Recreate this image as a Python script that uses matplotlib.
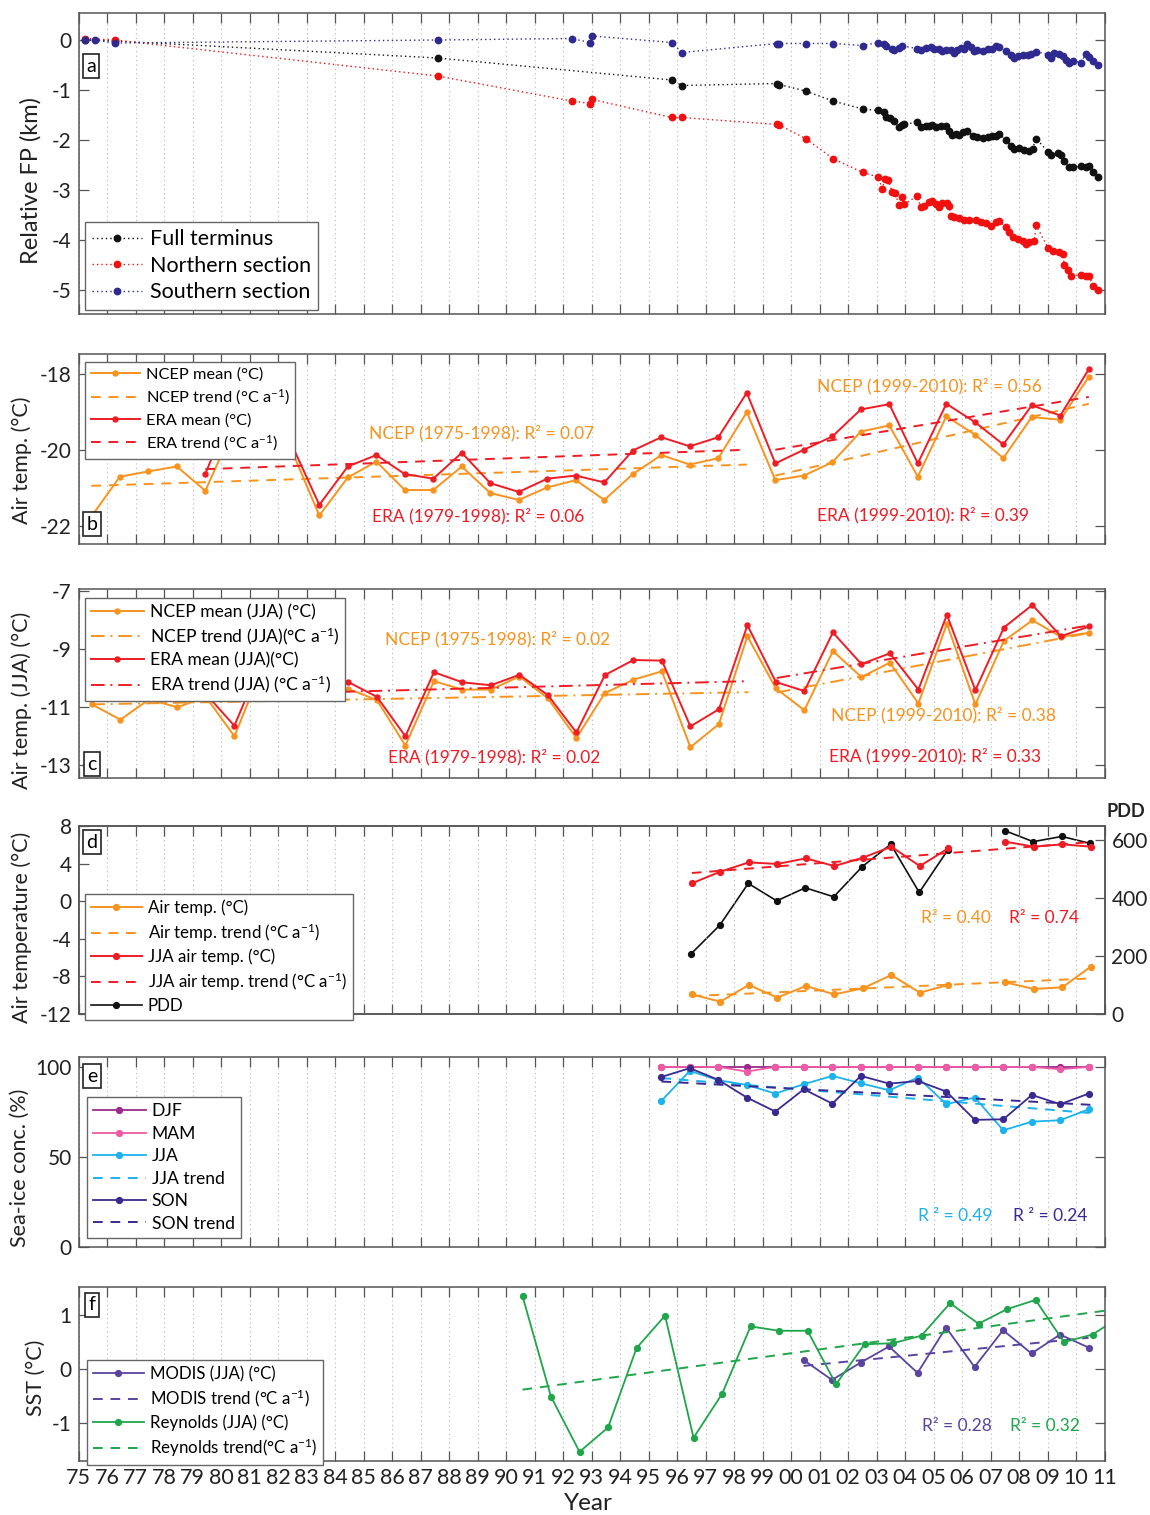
import numpy as np
import matplotlib
matplotlib.use("Agg")
import matplotlib.pyplot as plt

plt.rcParams["font.family"] = ["Lato", "DejaVu Sans"]
plt.rcParams["mathtext.fontset"] = "custom"
plt.rcParams["mathtext.rm"] = "Lato"
plt.rcParams["mathtext.default"] = "regular"
plt.rcParams["axes.unicode_minus"] = False

# ---------------- panel a: relative front position (km) ----------------
full_t = [1975.24, 1976.27, 1987.60, 1995.82, 1996.17, 1999.51, 1999.59, 2000.51, 2001.47, 2002.52,
          2003.06, 2003.26, 2003.35, 2003.49, 2003.61, 2003.79, 2003.91, 2003.96, 2004.43, 2004.55,
          2004.73, 2004.84, 2004.96, 2005.08, 2005.25, 2005.43, 2005.55, 2005.66, 2005.78, 2005.90,
          2006.02, 2006.19, 2006.37, 2006.54, 2006.72, 2006.90, 2007.07, 2007.19, 2007.31, 2007.54,
          2007.72, 2007.83, 2008.01, 2008.19, 2008.36, 2008.48, 2008.60, 2009.01, 2009.12, 2009.36,
          2009.47, 2009.59, 2009.77, 2009.89, 2010.18, 2010.35, 2010.47, 2010.59, 2010.76]
full_v = [0.0, -0.02, -0.36, -0.80, -0.91, -0.87, -0.89, -1.02, -1.22, -1.38,
          -1.41, -1.44, -1.54, -1.57, -1.63, -1.75, -1.71, -1.69, -1.64, -1.75,
          -1.72, -1.72, -1.71, -1.75, -1.72, -1.72, -1.81, -1.90, -1.87, -1.89,
          -1.83, -1.82, -1.92, -1.94, -1.95, -1.94, -1.91, -1.91, -1.87, -2.01,
          -2.12, -2.17, -2.15, -2.19, -2.21, -2.17, -1.97, -2.23, -2.29, -2.25,
          -2.30, -2.42, -2.55, -2.55, -2.52, -2.55, -2.53, -2.65, -2.75]

north_t = [1975.24, 1976.27, 1987.60, 1992.30, 1992.96, 1993.03, 1995.82, 1996.17, 1999.51, 1999.59,
           2000.51, 2001.47, 2002.52, 2003.06, 2003.20, 2003.30, 2003.42, 2003.55, 2003.65, 2003.80,
           2003.88, 2003.98, 2004.43, 2004.55, 2004.67, 2004.84, 2004.96, 2005.08, 2005.20, 2005.31,
           2005.49, 2005.55, 2005.61, 2005.72, 2005.90, 2006.08, 2006.25, 2006.49, 2006.66, 2006.84,
           2007.01, 2007.19, 2007.31, 2007.54, 2007.66, 2007.78, 2007.95, 2008.13, 2008.25, 2008.36,
           2008.54, 2008.60, 2009.01, 2009.18, 2009.42, 2009.53, 2009.59, 2009.71, 2009.83, 2010.18,
           2010.35, 2010.47, 2010.59, 2010.76]
north_v = [0.03, 0.0, -0.72, -1.22, -1.27, -1.19, -1.55, -1.55, -1.69, -1.70,
           -1.97, -2.37, -2.65, -2.74, -2.97, -2.79, -2.80, -3.05, -3.07, -3.31,
           -3.15, -3.28, -3.12, -3.35, -3.32, -3.25, -3.23, -3.28, -3.35, -3.27,
           -3.27, -3.32, -3.52, -3.55, -3.57, -3.61, -3.61, -3.61, -3.65, -3.67,
           -3.72, -3.65, -3.62, -3.75, -3.85, -3.95, -3.99, -4.02, -4.09, -4.05,
           -4.02, -3.70, -4.15, -4.22, -4.25, -4.29, -4.49, -4.59, -4.72, -4.69,
           -4.72, -4.72, -4.92, -4.99]

south_t = [1975.24, 1975.58, 1976.27, 1987.60, 1992.30, 1992.96, 1993.03, 1995.82, 1996.17, 1999.51,
           1999.59, 2000.51, 2001.47, 2002.52, 2003.06, 2003.26, 2003.34, 2003.53, 2003.61, 2003.79,
           2003.91, 2004.43, 2004.55, 2004.73, 2004.90, 2005.02, 2005.20, 2005.31, 2005.43, 2005.61,
           2005.72, 2005.84, 2005.96, 2006.08, 2006.19, 2006.31, 2006.43, 2006.54, 2006.72, 2006.90,
           2007.07, 2007.19, 2007.31, 2007.54, 2007.72, 2007.83, 2007.95, 2008.13, 2008.30, 2008.42,
           2008.60, 2009.01, 2009.12, 2009.24, 2009.42, 2009.53, 2009.65, 2009.77, 2009.89, 2010.18,
           2010.35, 2010.47, 2010.59, 2010.76]
south_v = [0.0, 0.0, -0.06, 0.0, 0.03, -0.05, 0.08, -0.05, -0.25, -0.07,
           -0.07, -0.07, -0.07, -0.11, -0.05, -0.07, -0.11, -0.17, -0.20, -0.15,
           -0.12, -0.17, -0.19, -0.15, -0.13, -0.17, -0.17, -0.22, -0.20, -0.20,
           -0.26, -0.20, -0.15, -0.17, -0.07, -0.14, -0.21, -0.20, -0.21, -0.17,
           -0.17, -0.11, -0.13, -0.22, -0.29, -0.35, -0.31, -0.29, -0.29, -0.27,
           -0.23, -0.29, -0.35, -0.25, -0.27, -0.32, -0.39, -0.45, -0.42, -0.45,
           -0.27, -0.34, -0.42, -0.49]

# ---------------- panel b: annual air temperature ----------------
ncep_years = np.arange(1975, 2011)
ncep_mean = [-21.75, -20.70, -20.56, -20.43, -21.07, -19.40, -19.30, -19.95, -21.72, -20.72,
             -20.30, -21.05, -21.05, -20.43, -21.13, -21.31, -20.98, -20.79, -21.31, -20.63,
             -20.13, -20.38, -20.21, -19.00, -20.79, -20.67, -20.32, -19.51, -19.35, -20.70,
             -19.11, -19.59, -20.21, -19.13, -19.20, -18.07]
era_years = np.arange(1979, 2011)
era_mean = [-20.63, -18.75, -19.00, -19.80, -21.44, -20.43, -20.13, -20.63, -20.75, -20.07,
            -20.87, -21.10, -20.75, -20.67, -20.85, -20.01, -19.66, -19.90, -19.66, -18.49,
            -20.35, -19.99, -19.64, -18.93, -18.79, -20.35, -18.78, -19.26, -19.85, -18.82,
            -19.09, -17.87]
# trend end points (first period, second period)
ncep_trend_b = [[(1975.45, -20.94), (1998.45, -20.38)], [(1999.45, -20.67), (2010.45, -18.78)]]
era_trend_b = [[(1979.45, -20.50), (1998.45, -19.99)], [(1999.45, -19.99), (2010.45, -18.60)]]

# ---------------- panel c: JJA air temperature ----------------
ncep_jja = [-10.91, -11.44, -10.74, -11.01, -10.65, -12.01, -9.60, -10.45, -10.51, -10.38,
            -10.76, -12.33, -10.11, -10.40, -10.40, -9.95, -10.70, -12.07, -10.52, -10.06,
            -9.77, -12.39, -11.59, -8.56, -10.36, -11.11, -9.07, -9.97, -9.47, -10.88,
            -8.13, -10.91, -8.72, -8.01, -8.58, -8.44]
era_jja = [-10.55, -11.65, -9.30, -10.30, -10.30, -10.14, -10.65, -12.01, -9.80, -10.15,
           -10.25, -9.89, -10.59, -11.88, -9.90, -9.38, -9.40, -11.67, -11.08, -8.18,
           -10.14, -10.45, -8.43, -9.52, -9.15, -10.40, -7.82, -10.42, -8.26, -7.48,
           -8.56, -8.22]
ncep_trend_c = [[(1975.45, -10.91), (1998.5, -10.49)], [(1999.5, -10.50), (2010.5, -8.44)]]
era_trend_c = [[(1979.45, -10.60), (1998.5, -10.11)], [(1999.5, -10.00), (2010.5, -8.18)]]

# ---------------- panel d: station air temperature and PDD ----------------
stn_years = np.arange(1996, 2011)
stn_air = [-9.91, -10.69, -8.91, -10.26, -9.02, -9.91, -9.27, -7.85, -9.73, -8.91,
           np.nan, -8.63, -9.34, -9.16, -6.96]
stn_jja = [1.90, 3.14, 4.13, 3.96, 4.56, 3.74, 4.63, 5.80, 3.74, 5.62,
           np.nan, 6.33, 5.80, 6.05, 5.80]
stn_pdd = [208, 306, 450, 390, 435, 404, 508, 585, 419, 565,
           np.nan, 632, 594, 612, 588]
air_trend_d = [(1996.52, -10.09), (2010.56, -8.21)]
jja_trend_d = [(1996.52, 3.00), (2010.56, 6.30)]

# ---------------- panel e: sea-ice concentration ----------------
ice_years = np.arange(1995, 2011)
ice_djf = [100, 100, 100, 100, 100, 100, 100, 100, 100, 100, 100, 100, 100, 100, 100, 100]
ice_mam = [100, 100, 100, 97.4, 100, 100, 100, 100, 100, 100, 100, 100, 100, 100, 98.7, 100]
ice_jja = [81.1, 97.8, 92.6, 90.0, 85.2, 90.4, 95.0, 90.9, 87.0, 94.1, 79.3, 83.0, 64.8, 69.6, 70.4, 76.5]
ice_son = [94.4, 99.3, 92.8, 83.0, 75.2, 87.6, 79.6, 95.0, 90.7, 92.2, 86.3, 70.6, 70.9, 84.4, 79.3, 85.2]
jja_trend_e = [(1995.45, 93.8), (2010.57, 74.3)]
son_trend_e = [(1995.45, 91.9), (2010.57, 78.9)]

# ---------------- panel f: sea-surface temperature ----------------
rey_years = np.arange(1990, 2012)
rey_sst = [1.35, -0.51, -1.53, -1.08, 0.39, 0.99, -1.27, -0.46, 0.79, 0.71, 0.71,
           -0.28, 0.46, 0.48, 0.62, 1.22, 0.84, 1.11, 1.28, 0.50, 0.64, 0.98]
modis_years = np.arange(2000, 2011)
modis_sst = [0.17, -0.20, 0.12, 0.42, -0.07, 0.77, 0.04, 0.72, 0.29, 0.64, 0.40]
rey_trend = [(1990.58, -0.38), (2011.0, 1.08)]
modis_trend = [(2000.44, 0.06), (2010.44, 0.58)]

x_years = np.arange(1975, 2012)

# colours
ORANGE = "#f7931e"
RED = "#ee1c25"
BLACK = "#111111"
BLUE = "#2e2a8f"
DJF_C = "#9c2a8c"
MAM_C = "#ee5aa5"
JJA_C = "#1cb2ee"
SON_C = "#3a2a90"
MODIS_C = "#5a44a0"
REY_C = "#1fa64a"
SPINE = "#555555"

W, H = 1150, 1515
fig = plt.figure(figsize=(W / 100, H / 100), dpi=100)


def rect(top, bottom, left=78.5, right=1104.5):
    return [left / W, 1 - bottom / H, (right - left) / W, (bottom - top) / H]


def style(ax, ylim, yticks, labels=False, right=True):
    ax.set_xlim(1975, 2011)
    ax.set_ylim(*ylim)
    ax.set_xticks(x_years)
    ax.set_yticks(yticks)
    ax.grid(axis="x", linestyle=(0, (1, 3)), color="#b5b5b5", linewidth=0.8)
    ax.set_axisbelow(True)
    ax.tick_params(direction="in", top=True, right=right, length=7, width=0.9,
                   color=SPINE, labelsize=15, pad=5, labelcolor="#222222")
    ax.tick_params(axis="x", labelbottom=labels, labelsize=15.5)
    if labels:
        ax.set_xticklabels([f"{y % 100:02d}" for y in x_years])
    for s in ax.spines.values():
        s.set_color(SPINE)
        s.set_linewidth(1.1)


def panel_tag(letter, xc, yc):
    fig.text(xc / W, 1 - yc / H, letter, fontsize=14, ha="center", va="center",
             bbox=dict(boxstyle="square,pad=0.18", fc="white", ec="#222222", lw=1.2))


def legend(ax, x, y, fs, spacing=0.35, hl=3.0):
    leg = ax.legend(loc="upper left", bbox_to_anchor=(x, y), borderaxespad=0,
                    fontsize=fs, frameon=True, fancybox=False, framealpha=1,
                    edgecolor="#666666", labelspacing=spacing, handlelength=hl,
                    handletextpad=0.35, borderpad=0.35, numpoints=1)
    leg.get_frame().set_linewidth(1.0)
    return leg


def seg(ax, pts, **kw):
    xs = [p[0] for p in pts]
    ys = [p[1] for p in pts]
    ax.plot(xs, ys, **kw)


# ---- a ----
ax_a = fig.add_axes(rect(13, 314))
mk = dict(marker="o", markersize=4.6, linestyle=(0, (1, 2.2)), linewidth=1.0)
ax_a.plot(full_t, full_v, color=BLACK, label="Full terminus", **mk)
ax_a.plot(north_t, north_v, color="#f01010", label="Northern section", **mk)
ax_a.plot(south_t, south_v, color=BLUE, label="Southern section", **mk)
style(ax_a, (-5.48, 0.54), [0, -1, -2, -3, -4, -5])
legend(ax_a, 0.0063, 0.306, 15.5, spacing=0.3, hl=2.3)
panel_tag("a", 91, 66)

# ---- b ----
ax_b = fig.add_axes(rect(354, 544))
ax_b.plot(ncep_years + 0.45, ncep_mean, color=ORANGE, marker="o", markersize=3.6,
          linewidth=1.4, label="NCEP mean (°C)")
seg(ax_b, ncep_trend_b[0], color=ORANGE, linestyle=(0, (5, 4)), linewidth=1.4,
    label="NCEP trend (°C a$^{-1}$)")
seg(ax_b, ncep_trend_b[1], color=ORANGE, linestyle=(0, (5, 4)), linewidth=1.4)
ax_b.plot(era_years + 0.45, era_mean, color=RED, marker="o", markersize=3.6,
          linewidth=1.4, label="ERA mean (°C)")
seg(ax_b, era_trend_b[0], color=RED, linestyle=(0, (5, 4)), linewidth=1.4,
    label="ERA trend (°C a$^{-1}$)")
seg(ax_b, era_trend_b[1], color=RED, linestyle=(0, (5, 4)), linewidth=1.4)
style(ax_b, (-22.47, -17.47), [-18, -20, -22])
legend(ax_b, 0.0063, 0.958, 11.8)
ann = dict(fontsize=12.5, ha="left", va="center")
ax_b.text(1985.2, -19.55, "NCEP (1975-1998): R² = 0.07", color=ORANGE, **ann)
ax_b.text(1985.3, -21.73, "ERA (1979-1998): R² = 0.06", color=RED, **ann)
ax_b.text(2000.9, -18.32, "NCEP (1999-2010): R² = 0.56", color=ORANGE, **ann)
ax_b.text(2000.9, -21.70, "ERA (1999-2010): R² = 0.39", color=RED, **ann)
panel_tag("b", 92, 524)

# ---- c ----
ax_c = fig.add_axes(rect(589, 778))
dd = (0, (7, 3, 1, 3))
ax_c.plot(ncep_years + 0.47, ncep_jja, color=ORANGE, marker="o", markersize=3.6,
          linewidth=1.4, label="NCEP mean (JJA) (°C)")
seg(ax_c, ncep_trend_c[0], color=ORANGE, linestyle=dd, linewidth=1.4,
    label="NCEP trend (JJA)(°C a$^{-1}$)")
seg(ax_c, ncep_trend_c[1], color=ORANGE, linestyle=dd, linewidth=1.4)
ax_c.plot(era_years + 0.47, era_jja, color=RED, marker="o", markersize=3.6,
          linewidth=1.4, label="ERA mean (JJA)(°C)")
seg(ax_c, era_trend_c[0], color=RED, linestyle=dd, linewidth=1.4,
    label="ERA trend (JJA) (°C a$^{-1}$)")
seg(ax_c, era_trend_c[1], color=RED, linestyle=dd, linewidth=1.4)
style(ax_c, (-13.45, -6.93), [-7, -9, -11, -13])
legend(ax_c, 0.0063, 0.952, 12.6, spacing=0.3)
ax_c.text(1985.75, -8.67, "NCEP (1975-1998): R² = 0.02", color=ORANGE, **ann)
ax_c.text(1985.85, -12.73, "ERA (1979-1998): R² = 0.02", color=RED, **ann)
ax_c.text(2001.4, -11.28, "NCEP (1999-2010): R² = 0.38", color=ORANGE, **ann)
ax_c.text(2001.35, -12.69, "ERA (1999-2010): R² = 0.33", color=RED, **ann)
panel_tag("c", 92, 764)

# ---- d ----
ax_d = fig.add_axes(rect(826, 1014))
ax_p = ax_d.twinx()
ax_d.plot(stn_years + 0.52, stn_air, color=ORANGE, marker="o", markersize=4.2,
          linewidth=1.4, label="Air temp. (°C)")
seg(ax_d, air_trend_d, color=ORANGE, linestyle=(0, (5, 4)), linewidth=1.4,
    label="Air temp. trend (°C a$^{-1}$)")
ax_d.plot(stn_years + 0.52, stn_jja, color=RED, marker="o", markersize=4.2,
          linewidth=1.4, label="JJA air temp. (°C)")
seg(ax_d, jja_trend_d, color=RED, linestyle=(0, (5, 4)), linewidth=1.4,
    label="JJA air temp. trend (°C a$^{-1}$)")
pdd_line, = ax_p.plot(stn_years + 0.50, stn_pdd, color=BLACK, marker="o", markersize=4.2,
                      linewidth=1.2, label="PDD")
style(ax_d, (-12, 8), [8, 4, 0, -4, -8, -12], right=False)
ax_p.set_ylim(0, 648)
ax_p.set_yticks([0, 200, 400, 600])
ax_p.tick_params(direction="in", length=7, width=0.9, color=SPINE, labelsize=15,
                 pad=5, labelcolor="#222222")
for s in ax_p.spines.values():
    s.set_color(SPINE)
    s.set_linewidth(1.1)
h, l = ax_d.get_legend_handles_labels()
ax_d.legend(h + [pdd_line], l + ["PDD"], loc="upper left", bbox_to_anchor=(0.0063, 0.64),
            borderaxespad=0, fontsize=12.2, frameon=True, fancybox=False, framealpha=1,
            edgecolor="#666666", labelspacing=0.3, handlelength=3.0, handletextpad=0.35,
            borderpad=0.35, numpoints=1).get_frame().set_linewidth(1.0)
ax_d.set_zorder(ax_p.get_zorder() + 1)
ax_d.patch.set_visible(False)
ax_d.text(2004.55, -1.82, "R² = 0.40", color=ORANGE, **ann)
ax_d.text(2007.66, -1.82, "R² = 0.74", color=RED, **ann)
fig.text(1126 / W, 1 - 812 / H, "PDD", fontsize=13, fontweight="bold", ha="center",
         va="center", color="#222222")
panel_tag("d", 92, 842)

# ---- e ----
ax_e = fig.add_axes(rect(1057, 1247))
ax_e.plot(ice_years + 0.45, ice_djf, color=DJF_C, marker="o", markersize=4.2,
          linewidth=1.3, label="DJF")
ax_e.plot(ice_years + 0.45, ice_mam, color=MAM_C, marker="o", markersize=4.2,
          linewidth=1.3, label="MAM")
ax_e.plot(ice_years + 0.45, ice_jja, color=JJA_C, marker="o", markersize=4.2,
          linewidth=1.3, label="JJA")
seg(ax_e, jja_trend_e, color=JJA_C, linestyle=(0, (5, 4)), linewidth=1.4, label="JJA trend")
ax_e.plot(ice_years + 0.45, ice_son, color=SON_C, marker="o", markersize=4.2,
          linewidth=1.3, label="SON")
seg(ax_e, son_trend_e, color=SON_C, linestyle=(0, (5, 4)), linewidth=1.4, label="SON trend")
style(ax_e, (0, 105.5), [0, 50, 100])
legend(ax_e, 0.0083, 0.789, 12.6, spacing=0.37)
ax_e.text(2004.46, 17.2, "R ² = 0.49", color=JJA_C, **ann)
ax_e.text(2007.79, 17.2, "R ² = 0.24", color=SON_C, **ann)
panel_tag("e", 92, 1076)

# ---- f ----
ax_f = fig.add_axes(rect(1287, 1461))
ax_f.plot(modis_years + 0.44, modis_sst, color=MODIS_C, marker="o", markersize=4.2,
          linewidth=1.3, label="MODIS (JJA) (°C)")
seg(ax_f, modis_trend, color=MODIS_C, linestyle=(0, (5, 4)), linewidth=1.4,
    label="MODIS trend (°C a$^{-1}$)")
ax_f.plot(rey_years + 0.58, rey_sst, color=REY_C, marker="o", markersize=4.2,
          linewidth=1.3, label="Reynolds (JJA) (°C)")
seg(ax_f, rey_trend, color=REY_C, linestyle=(0, (5, 4)), linewidth=1.4,
    label="Reynolds trend(°C a$^{-1}$)")
style(ax_f, (-1.70, 1.52), [-1, 0, 1], labels=True)
legend(ax_f, 0.0083, 0.58, 12.2, spacing=0.33)
ax_f.text(2004.59, -1.05, "R² = 0.28", color=MODIS_C, **ann)
ax_f.text(2007.69, -1.05, "R² = 0.32", color=REY_C, **ann)
panel_tag("f", 92, 1305)

# y labels and x label
ylab = dict(rotation=90, ha="center", va="center", color="#222222")
fig.text(31 / W, 1 - 180 / H, "Relative FP (km)", fontsize=17, **ylab)
fig.text(22 / W, 1 - 460 / H, "Air temp. (°C)", fontsize=15.5, **ylab)
fig.text(22 / W, 1 - 700 / H, "Air temp. (JJA) (°C)", fontsize=15.5, **ylab)
fig.text(22 / W, 1 - 927 / H, "Air temperature (°C)", fontsize=15.5, **ylab)
fig.text(20 / W, 1 - 1168 / H, "Sea-ice conc. (%)", fontsize=15.5, **ylab)
fig.text(36 / W, 1 - 1378 / H, "SST (°C)", fontsize=15.5, **ylab)
fig.text(588 / W, 1 - 1503 / H, "Year", fontsize=17.5, ha="center", va="center",
         color="#222222")

fig.savefig("out.png", dpi=100)
